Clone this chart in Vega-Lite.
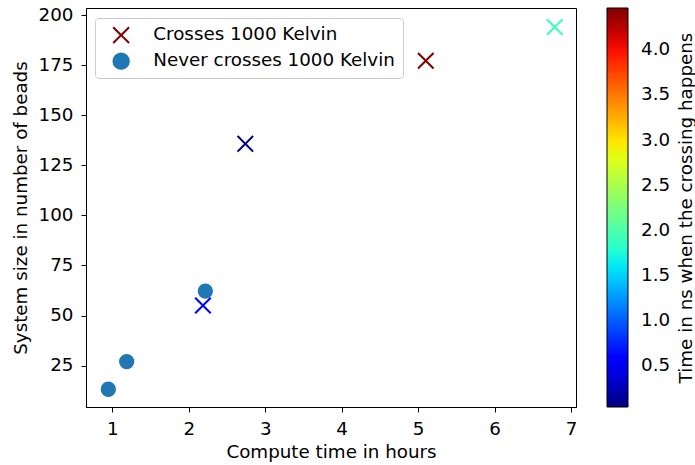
{
  "$schema": "https://vega.github.io/schema/vega-lite/v6.json",
  "width": 490,
  "height": 399,
  "autosize": {"type": "none"},
  "padding": {"left": 86, "top": 8, "right": 119, "bottom": 58},
  "background": "white",
  "config": {
    "font": "DejaVu Sans",
    "view": {"stroke": "black", "strokeWidth": 1},
    "axis": {
      "grid": false,
      "domainColor": "black",
      "tickColor": "black",
      "tickSize": 5,
      "labelFontSize": 18.3,
      "labelColor": "black",
      "titleFontSize": 18.3,
      "titleFontWeight": "normal",
      "titleColor": "black",
      "labelFont": "DejaVu Sans",
      "titleFont": "DejaVu Sans"
    },
    "legend": {"labelFont": "DejaVu Sans", "titleFont": "DejaVu Sans"}
  },
  "data": {
    "values": [
      {"hours": 0.948, "beads": 13.2, "type": "Never crosses 1000 Kelvin", "time": null},
      {"hours": 1.188, "beads": 27.0, "type": "Never crosses 1000 Kelvin", "time": null},
      {"hours": 2.217, "beads": 62.2, "type": "Never crosses 1000 Kelvin", "time": null},
      {"hours": 2.186, "beads": 55.0, "type": "Crosses 1000 Kelvin", "time": 0.56},
      {"hours": 2.74, "beads": 135.7, "type": "Crosses 1000 Kelvin", "time": 0.044},
      {"hours": 5.10, "beads": 177.2, "type": "Crosses 1000 Kelvin", "time": 4.47},
      {"hours": 6.787, "beads": 194.0, "type": "Crosses 1000 Kelvin", "time": 1.9}
    ]
  },
  "encoding": {
    "x": {
      "field": "hours", "type": "quantitative",
      "scale": {"domain": [0.656, 7.065], "nice": false, "zero": false},
      "axis": {"values": [1, 2, 3, 4, 5, 6, 7], "title": "Compute time in hours", "titlePadding": 6, "labelPadding": 8}
    },
    "y": {
      "field": "beads", "type": "quantitative",
      "scale": {"domain": [4.35, 203.5], "nice": false, "zero": false},
      "axis": {"values": [25, 50, 75, 100, 125, 150, 175, 200], "title": "System size in number of beads", "titlePadding": 8, "labelPadding": 8}
    },
    "shape": {
      "field": "type", "type": "nominal",
      "scale": {"domain": ["Crosses 1000 Kelvin", "Never crosses 1000 Kelvin"], "range": ["M-0.83,-1L0,-0.17L0.83,-1L1,-0.83L0.17,0L1,0.83L0.83,1L0,0.17L-0.83,1L-1,0.83L-0.17,0L-1,-0.83Z", "circle"]},
      "legend": {
        "title": null,
        "orient": "none",
        "legendX": 9,
        "legendY": 10,
        "fillColor": "white",
        "strokeColor": "#cccccc",
        "cornerRadius": 3,
        "padding": 8,
        "symbolOffset": 9,
        "labelFontSize": 18.3,
        "labelColor": "black",
        "labelLimit": 0,
        "symbolSize": 300,
        "symbolStrokeWidth": 0,
        "symbolFillColor": "#1f77b4",
        "labelOffset": 23,
        "rowPadding": 7,
        "encoding": {
          "symbols": {
            "fill": {"value": {"signal": "datum.value === 'Crosses 1000 Kelvin' ? '#800000' : '#1f77b4'"}},
            "strokeWidth": {"value": 0},
            "opacity": {"value": 1}
          }
        }
      }
    }
  },
  "layer": [
    {
      "transform": [{"filter": "datum.type === 'Never crosses 1000 Kelvin'"}],
      "mark": {"type": "point", "filled": true, "color": "#1f77b4", "size": 235, "opacity": 1}
    },
    {
      "transform": [{"filter": "datum.type === 'Crosses 1000 Kelvin'"}],
      "mark": {"type": "point", "filled": true, "size": 289, "strokeWidth": 0, "opacity": 1},
      "encoding": {
        "color": {
          "field": "time", "type": "quantitative",
          "scale": {
            "domain": [0.044, 0.531, 0.597, 1.549, 1.593, 1.704, 2.877, 2.921, 2.965, 3.983, 4.072, 4.47],
            "range": ["#000080", "#0000ff", "#0000ff", "#00dbff", "#00e6f7", "#15ffe2", "#efff08", "#f7f600", "#ffec00", "#ff1300", "#e80000", "#800000"],
            "interpolate": "rgb"
          },
          "legend": {
            "type": "gradient",
            "orient": "none",
            "legendX": 521,
            "legendY": 0,
            "direction": "vertical",
            "gradientLength": 399,
            "gradientThickness": 21,
            "gradientStrokeColor": "black",
            "gradientStrokeWidth": 1,
            "values": [0.5, 1.0, 1.5, 2.0, 2.5, 3.0, 3.5, 4.0],
            "format": ".1f",
            "labelFontSize": 18.3,
            "labelColor": "black",
            "labelOffset": 13,
            "title": "Time in ns when the crossing happens",
            "titleOrient": "right",
            "titleAnchor": "middle",
            "titleLimit": 0,
            "titleFontSize": 18.3,
            "titleFontWeight": "normal",
            "titleColor": "black",
            "titlePadding": 8,
            "encoding": {
              "title": {"angle": {"value": 270}, "baseline": {"value": "top"}}
            }
          }
        }
      }
    }
  ]
}
